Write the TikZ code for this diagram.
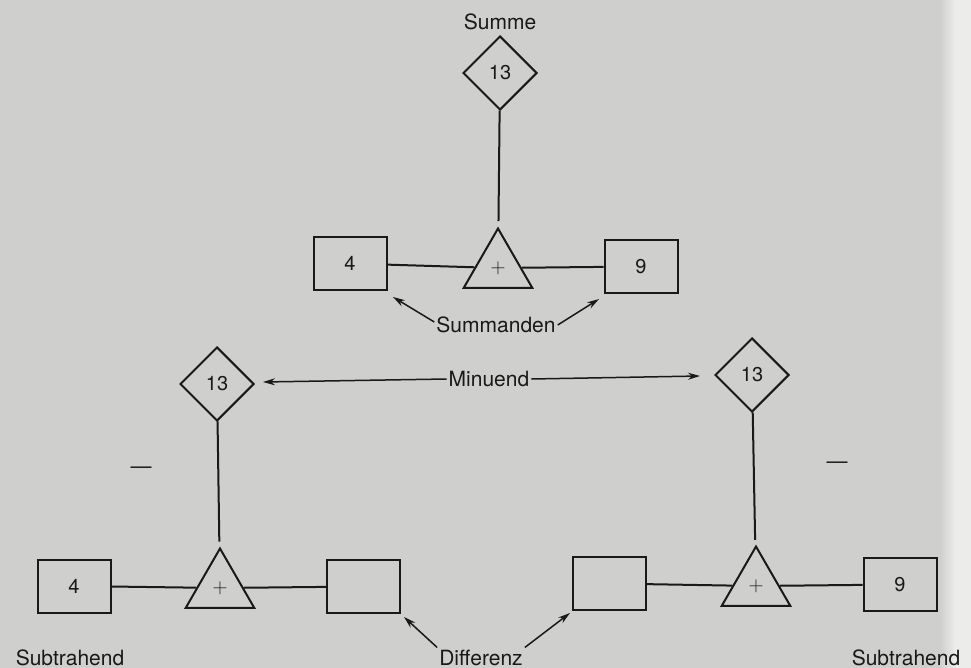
\documentclass[tikz,border=0pt]{standalone}
\usepackage{fontspec}
\setmainfont{TeX Gyre Heros}
\usetikzlibrary{shapes.geometric,arrows.meta}
\definecolor{bg}{RGB}{207,207,205}
\definecolor{ink}{RGB}{25,25,25}
\definecolor{edge}{RGB}{236,236,234}
\tikzset{
  ln/.style={draw=ink, line width=2pt},
  arr/.style={draw=ink, line width=1.5pt, -{Stealth[length=12pt,width=7pt]}},
  box/.style={draw=ink, line width=2pt, rectangle, minimum width=73pt, minimum height=53pt, inner sep=0pt, font=\fontsize{20}{24}\selectfont, text=ink},
  dia/.style={draw=ink, line width=2pt, diamond, minimum width=74pt, minimum height=74pt, inner sep=0pt, font=\fontsize{20}{24}\selectfont, text=ink},
  tri/.style={draw=ink, line width=2pt, regular polygon, regular polygon sides=3, minimum size=79pt, inner sep=0pt, font=\fontsize{20}{24}\selectfont, text=ink},
  lbl/.style={inner sep=2pt, font=\fontsize{21}{25}\selectfont, text=ink},
}
\begin{document}
\begin{tikzpicture}[x=1pt,y=-1pt]
\fill[bg] (0,0) rectangle (971,668);
\shade[left color=bg, right color=edge] (940,0) rectangle (955,668);
\fill[edge] (955,0) rectangle (971,668);
\useasboundingbox (0,0) rectangle (971,668);

% top: addition
\node[lbl] (summe) at (500,22) {Summe};
\node[dia] (d1) at (500,73) {13};
\node[tri] (t1) at (498,268) {$+$};
\node[box] (b4) at (350,263.5) {4};
\node[box] (b9) at (641,266.5) {9};
\draw[ln, shorten >=6pt] (d1) -- (t1);
\draw[ln] (b4) -- (t1);
\draw[ln] (t1) -- (b9);
\node[lbl] (summ) at (496,325) {Summanden};
\coordinate (s1) at (393,297);
\coordinate (s2) at (599,299);
\draw[arr] ([yshift=3pt]summ.west) -- (s1);
\draw[arr] (summ.east) -- (s2);

% bottom left
\node[dia] (d2) at (217,384) {13};
\node[tri] (t2) at (220,588) {$+$};
\node[box] (b4l) at (74,586) {4};
\node[box] (bxl) at (363.5,586.5) {};
\draw[ln, shorten >=6pt] (d2) -- (t2);
\draw[ln] (b4l) -- (t2);
\draw[ln] (t2) -- (bxl);
\node[lbl] (m1) at (141,470) {—};
\node[lbl, anchor=base] (sub1) at (70,665) {Subtrahend};

% bottom right
\node[dia] (d3) at (752,375) {13};
\node[tri] (t3) at (756,586) {$+$};
\node[box] (bxr) at (609.5,583.5) {};
\node[box] (b9r) at (900,584.5) {9};
\draw[ln, shorten >=6pt] (d3) -- (t3);
\draw[ln] (bxr) -- (t3);
\draw[ln] (t3) -- (b9r);
\node[lbl] (m2) at (837,465) {—};
\node[lbl, anchor=base] (sub2) at (906,665) {Subtrahend};

% Minuend
\node[lbl] (minu) at (489,379) {Minuend};
\coordinate (mi1) at (263,382);
\coordinate (mi2) at (700,376);
\draw[arr] (minu.west) -- (mi1);
\draw[arr] (minu.east) -- (mi2);

% Differenz
\node[lbl, anchor=base] (diff) at (481,665) {Differenz};
\coordinate (di1) at (404,617);
\coordinate (di2) at (570,613);
\draw[arr] (diff.north west) -- (di1);
\draw[arr] (diff.north east) -- (di2);
\end{tikzpicture}
\end{document}
